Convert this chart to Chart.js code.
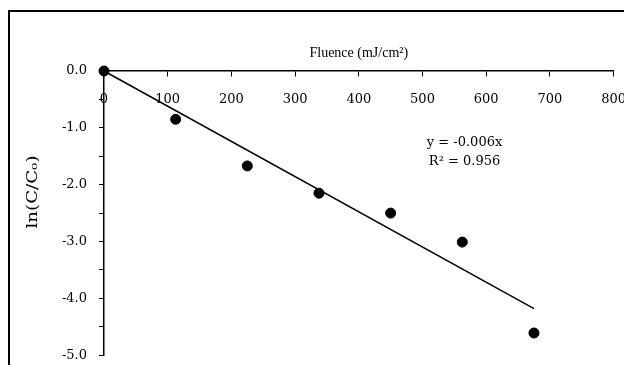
<!DOCTYPE html>
<html>
<head>
<meta charset="utf-8">
<script src="https://cdn.jsdelivr.net/npm/chart.js@4.4.1/dist/chart.umd.min.js"></script>
<style>
  html, body { margin: 0; padding: 0; background: #fff; overflow: hidden; }
  canvas { display: block; }
</style>
</head>
<body>
<canvas id="fluenceChart" width="642" height="375"></canvas>
<script>
// Data
const fluence = [0, 112.5, 225, 337.5, 450, 562.5, 675];
const lnRatio = [0, -0.85, -1.67, -2.15, -2.50, -3.01, -4.61];
const fitX = [0, 675];
const fitY = [0, -4.18];
const xTitle = 'Fluence (mJ/cm²)';
const yTitle = 'ln(C/C₀)';
const fitLabels = ['y = -0.006x', 'R² = 0.956'];

const FONT = "'DejaVu Serif', 'Liberation Serif', serif";
const TITLE_FONT = "'Liberation Serif', 'DejaVu Serif', serif";

// outer frame of the figure (left and top edges only visible)
const framePlugin = {
    id: 'frame',
    beforeDraw(chart) {
        const c = chart.ctx;
        c.save();
        c.fillStyle = '#000';
        c.fillRect(8, 10, chart.width, 2);
        c.fillRect(8, 10, 2, chart.height);
        c.restore();
    }
};

// rotated y title + regression text
const textPlugin = {
    id: 'extraText',
    afterDraw(chart) {
        const c = chart.ctx;
        const xs = chart.scales.x, ys = chart.scales.y;
        c.save();
        c.fillStyle = '#000';
        c.font = '14px ' + FONT;
        c.textAlign = 'center';
        c.textBaseline = 'middle';
        c.translate(33, 192);
        c.rotate(-Math.PI / 2);
        c.scale(1.3, 1);
        c.fillText(yTitle, 0, 0);
        c.restore();

        c.save();
        c.fillStyle = '#000';
        c.font = '13px ' + FONT;
        c.textAlign = 'center';
        c.textBaseline = 'middle';
        const tx = xs.getPixelForValue(566);
        c.fillText(fitLabels[0], tx, ys.getPixelForValue(-1.26));
        c.fillText(fitLabels[1], tx, ys.getPixelForValue(-1.6));
        c.restore();
    }
};

new Chart(document.getElementById('fluenceChart'), {
    type: 'scatter',
    data: {
        datasets: [
            {
                label: 'fit',
                data: fitX.map((x, i) => ({ x, y: fitY[i] })),
                showLine: true,
                borderColor: '#000',
                borderWidth: 1.5,
                pointRadius: 0,
                clip: false,
                order: 2
            },
            {
                label: 'measured',
                data: fluence.map((x, i) => ({ x, y: lnRatio[i] })),
                backgroundColor: '#000',
                borderColor: '#000',
                pointRadius: 5,
                clip: false,
                order: 1
            }
        ]
    },
    options: {
        responsive: false,
        animation: false,
        layout: { padding: { top: 0, right: 11, bottom: 11, left: 0 } },
        plugins: {
            legend: { display: false },
            tooltip: { enabled: false },
            title: {
                display: true,
                text: xTitle,
                fullSize: false,
                color: '#000',
                font: { family: TITLE_FONT, size: 14, weight: 'normal', lineHeight: 1.2 },
                padding: { top: 45, bottom: 9.2 }
            }
        },
        scales: {
            x: {
                type: 'linear',
                position: { y: 0 },
                min: 0,
                max: 800,
                ticks: { stepSize: 100, color: '#000', padding: 16, font: { family: FONT, size: 13 } },
                grid: { drawOnChartArea: false, color: '#000', tickLength: 5 },
                border: { color: '#000', width: 1.5 }
            },
            y: {
                type: 'linear',
                position: 'left',
                min: -5,
                max: 0,
                afterFit(scale) { scale.width = 104; },
                ticks: {
                    stepSize: 0.5,
                    color: '#000',
                    padding: 12,
                    font: { family: FONT, size: 13 },
                    callback: v => Number.isInteger(v) ? v.toFixed(1) : ''
                },
                grid: { drawOnChartArea: false, color: '#000', tickLength: 5 },
                border: { color: '#000', width: 1.5 }
            }
        }
    },
    plugins: [framePlugin, textPlugin]
});
</script>
</body>
</html>
